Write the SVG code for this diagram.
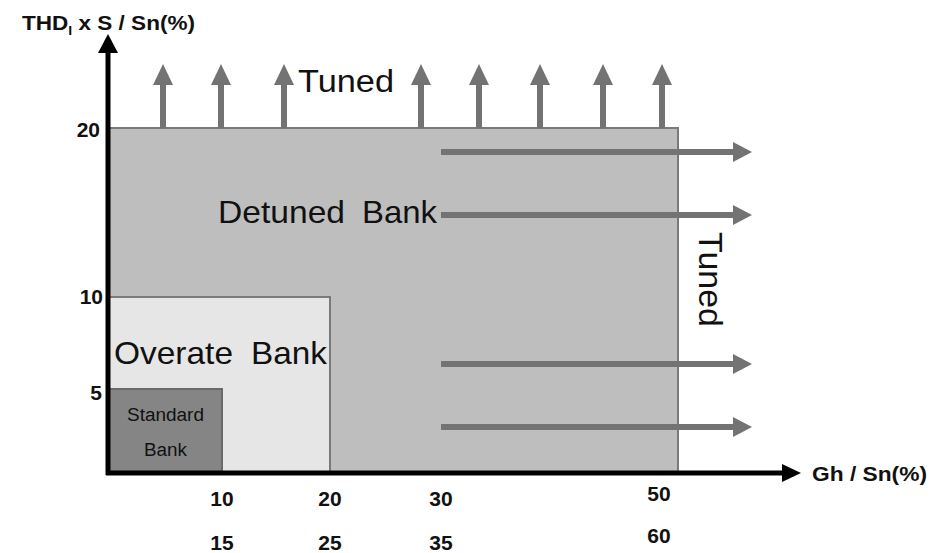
<svg xmlns="http://www.w3.org/2000/svg" width="936" height="553" viewBox="0 0 936 553">
  <style>
    .lbl { font-family: "Liberation Sans", Arial, sans-serif; fill: #111; }
    .tick { font-family: "Liberation Sans", Arial, sans-serif; font-weight: bold; font-size: 21px; fill: #111; }
    .big { font-size: 32px; }
    .flow { stroke: #737373; stroke-width: 6; fill: none; }
    .head { fill: #737373; }
    .axis { stroke: #000; stroke-width: 5; fill: none; }
  </style>
  <rect width="936" height="553" fill="#fff"/>

  <!-- regions -->
  <g id="detuned">
    <rect x="108" y="128" width="570" height="345" fill="#bebebe" stroke="#7a7a7a" stroke-width="2"/>
    <text class="lbl big" y="223"><tspan x="218" textLength="127" lengthAdjust="spacingAndGlyphs">Detuned</tspan><tspan x="362" textLength="75" lengthAdjust="spacingAndGlyphs">Bank</tspan></text>
  </g>
  <g id="overate">
    <rect x="109" y="297" width="221" height="176" fill="#e6e6e6" stroke="#7a7a7a" stroke-width="2"/>
    <text class="lbl big" y="364"><tspan x="114" textLength="119" lengthAdjust="spacingAndGlyphs">Overate</tspan><tspan x="251" textLength="76" lengthAdjust="spacingAndGlyphs">Bank</tspan></text>
  </g>
  <g id="standard">
    <rect x="109" y="389" width="113" height="84" fill="#858585" stroke="#6a6a6a" stroke-width="2"/>
    <text class="lbl" x="127" y="421" font-size="18" textLength="77" lengthAdjust="spacingAndGlyphs" fill="#222">Standard</text>
    <text class="lbl" x="144" y="456" font-size="18" textLength="43" lengthAdjust="spacingAndGlyphs" fill="#222">Bank</text>
  </g>

  <!-- tuned labels -->
  <g id="tuned-top">
    <text class="lbl" x="298" y="92" font-size="31" textLength="96" lengthAdjust="spacingAndGlyphs">Tuned</text>
  </g>
  <g id="tuned-right">
    <text class="lbl" transform="translate(699,232) rotate(90)" font-size="33" textLength="95" lengthAdjust="spacingAndGlyphs">Tuned</text>
  </g>

  <!-- connectors -->
  <g id="connectors">
    <g class="flow">
      <line x1="163" y1="128" x2="163" y2="84"/>
      <line x1="221" y1="128" x2="221" y2="84"/>
      <line x1="284" y1="128" x2="284" y2="84"/>
      <line x1="421" y1="128" x2="421" y2="84"/>
      <line x1="479" y1="128" x2="479" y2="84"/>
      <line x1="540" y1="128" x2="540" y2="84"/>
      <line x1="603" y1="128" x2="603" y2="84"/>
      <line x1="662" y1="128" x2="662" y2="84"/>
      <line x1="441" y1="152" x2="734" y2="152"/>
      <line x1="441" y1="215" x2="734" y2="215"/>
      <line x1="441" y1="364" x2="734" y2="364"/>
      <line x1="441" y1="427" x2="734" y2="427"/>
    </g>
    <g class="head">
      <path d="M153,85 L163,64 L173,85 Z"/>
      <path d="M211,85 L221,64 L231,85 Z"/>
      <path d="M274,85 L284,64 L294,85 Z"/>
      <path d="M411,85 L421,64 L431,85 Z"/>
      <path d="M469,85 L479,64 L489,85 Z"/>
      <path d="M530,85 L540,64 L550,85 Z"/>
      <path d="M593,85 L603,64 L613,85 Z"/>
      <path d="M652,85 L662,64 L672,85 Z"/>
      <path d="M733,142 L752,152 L733,162 Z"/>
      <path d="M733,205 L752,215 L733,225 Z"/>
      <path d="M733,354 L752,364 L733,374 Z"/>
      <path d="M733,417 L752,427 L733,437 Z"/>
    </g>
  </g>

  <!-- axes -->
  <g id="axes">
    <line class="axis" x1="108" y1="475" x2="108" y2="50"/>
    <path d="M98,53 L108,34 L118,53 Z" fill="#000"/>
    <line class="axis" x1="106" y1="473" x2="784" y2="473"/>
    <path d="M782,464 L801,473 L782,482 Z" fill="#000"/>
    <text class="tick" x="22" y="30" font-size="23" textLength="173" lengthAdjust="spacingAndGlyphs">THD<tspan font-size="13" dy="5">I</tspan><tspan dy="-5"> x S / Sn(%)</tspan></text>
    <text class="tick" x="812" y="481" font-size="22" textLength="115" lengthAdjust="spacingAndGlyphs">Gh / Sn(%)</text>
    <text class="tick" x="100" y="137" text-anchor="end">20</text>
    <text class="tick" x="103" y="304" text-anchor="end">10</text>
    <text class="tick" x="102" y="400" text-anchor="end">5</text>
    <text class="tick" x="222" y="506" text-anchor="middle">10</text>
    <text class="tick" x="222" y="550" text-anchor="middle">15</text>
    <text class="tick" x="330" y="506" text-anchor="middle">20</text>
    <text class="tick" x="330" y="550" text-anchor="middle">25</text>
    <text class="tick" x="441" y="506" text-anchor="middle">30</text>
    <text class="tick" x="441" y="550" text-anchor="middle">35</text>
    <text class="tick" x="659" y="501" text-anchor="middle">50</text>
    <text class="tick" x="659" y="543" text-anchor="middle">60</text>
  </g>
</svg>
